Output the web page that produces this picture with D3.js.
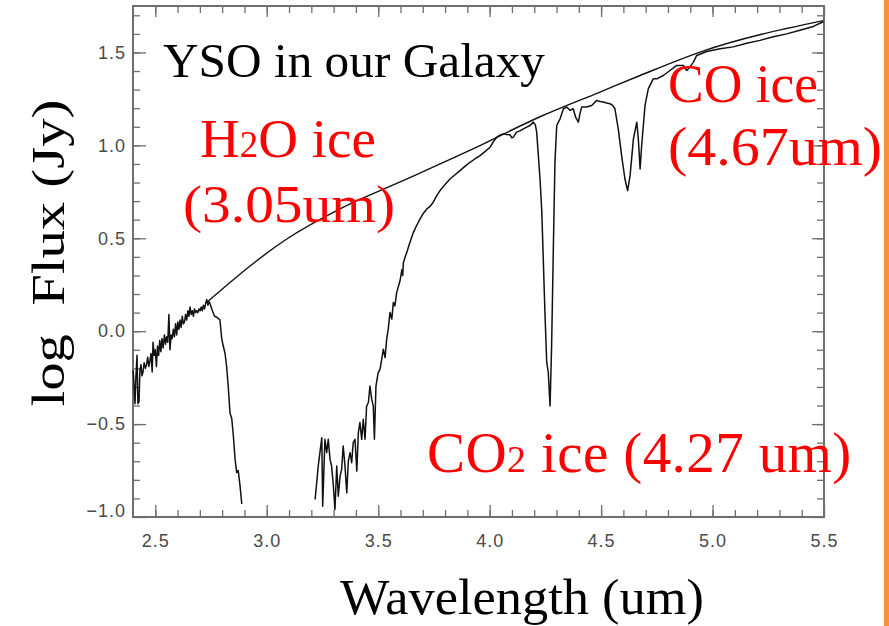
<!DOCTYPE html>
<html>
<head>
<meta charset="utf-8">
<script src="https://cdn.jsdelivr.net/npm/d3@7"></script>
<style>
  body { margin: 0; background: #fff; }
  svg { display: block; }
</style>
</head>
<body>
<svg width="889" height="626"></svg>
<script>
// [wavelength (um), log flux (Jy)]
const spectrumShort = [
  [2.401, -0.21], [2.405, -0.30], [2.409, -0.39], [2.413, -0.25], [2.418, -0.13],
  [2.422, -0.39], [2.427, -0.38], [2.431, -0.21], [2.436, -0.18], [2.440, -0.24],
  [2.445, -0.22], [2.450, -0.17], [2.456, -0.20], [2.461, -0.18], [2.466, -0.14],
  [2.471, -0.19], [2.476, -0.16], [2.481, -0.12], [2.486, -0.22], [2.490, -0.06],
  [2.495, -0.13], [2.500, -0.10], [2.505, -0.19], [2.510, -0.08], [2.515, -0.13],
  [2.520, -0.05], [2.525, -0.11], [2.530, -0.04], [2.535, -0.09], [2.541, -0.02],
  [2.546, -0.07], [2.551, -0.03], [2.556, -0.06], [2.561, 0.09], [2.566, -0.10],
  [2.571, -0.02], [2.576, -0.04], [2.581, 0.01], [2.586, -0.03], [2.591, 0.04],
  [2.596, -0.02], [2.601, 0.05], [2.606, 0.01], [2.611, 0.06], [2.616, 0.02],
  [2.621, 0.08], [2.626, 0.04], [2.631, 0.05], [2.636, 0.09], [2.641, 0.06],
  [2.646, 0.11], [2.651, 0.08], [2.656, 0.13], [2.661, 0.09], [2.666, 0.11],
  [2.671, 0.08], [2.676, 0.12], [2.681, 0.10], [2.686, 0.11], [2.691, 0.10],
  [2.696, 0.12], [2.701, 0.11], [2.706, 0.13], [2.711, 0.11], [2.716, 0.14],
  [2.721, 0.12], [2.726, 0.15], [2.731, 0.17], [2.736, 0.14], [2.741, 0.16],
  [2.746, 0.146], [2.756, 0.11], [2.766, 0.08], [2.776, 0.075], [2.786, 0.065],
  [2.790, 0.06], [2.798, -0.04], [2.805, -0.08], [2.813, -0.12], [2.820, -0.19],
  [2.828, -0.31], [2.835, -0.44], [2.843, -0.47], [2.850, -0.56], [2.858, -0.69],
  [2.865, -0.76], [2.872, -0.75], [2.880, -0.83], [2.888, -0.93]
];

const spectrumLong = [
  [3.217, -0.906], [3.231, -0.726], [3.247, -0.573], [3.251, -0.942], [3.261, -0.582],
  [3.269, -0.654], [3.276, -0.582], [3.284, -0.690], [3.291, -0.726], [3.299, -0.834],
  [3.306, -0.960], [3.314, -0.726], [3.321, -0.888], [3.329, -0.780], [3.336, -0.744],
  [3.343, -0.618], [3.351, -0.726], [3.359, -0.870], [3.366, -0.699], [3.374, -0.654],
  [3.381, -0.708], [3.388, -0.600], [3.396, -0.582], [3.404, -0.753], [3.411, -0.546],
  [3.418, -0.492], [3.426, -0.582], [3.433, -0.474], [3.441, -0.582], [3.448, -0.403],
  [3.456, -0.384], [3.463, -0.295], [3.471, -0.367], [3.478, -0.403], [3.483, -0.582],
  [3.490, -0.295], [3.500, -0.223], [3.508, -0.205], [3.516, -0.151], [3.523, -0.097],
  [3.531, -0.142], [3.538, -0.043], [3.545, 0.011], [3.553, 0.101], [3.561, 0.065],
  [3.568, 0.155], [3.575, 0.136], [3.583, 0.209], [3.598, 0.271], [3.606, 0.33],
  [3.610, 0.30], [3.613, 0.370], [3.628, 0.424], [3.643, 0.48], [3.658, 0.532],
  [3.673, 0.57], [3.688, 0.604], [3.703, 0.635], [3.718, 0.658], [3.733, 0.672],
  [3.747, 0.694], [3.762, 0.728], [3.777, 0.756], [3.800, 0.790], [3.822, 0.819],
  [3.845, 0.842], [3.867, 0.864], [3.890, 0.888], [3.912, 0.909], [3.935, 0.928],
  [3.957, 0.945], [3.980, 0.968], [4.002, 0.990], [4.017, 1.02], [4.032, 1.044],
  [4.046, 1.055], [4.061, 1.062], [4.076, 1.058], [4.091, 1.057], [4.100, 1.040],
  [4.106, 1.044], [4.121, 1.071], [4.136, 1.078], [4.151, 1.089], [4.166, 1.098],
  [4.181, 1.107], [4.196, 1.125], [4.205, 1.110], [4.211, 1.071], [4.226, 0.819],
  [4.234, 0.642], [4.241, 0.372], [4.248, 0.102], [4.256, -0.167], [4.263, -0.221],
  [4.271, -0.403], [4.278, -0.079], [4.286, 0.460], [4.293, 0.909], [4.301, 1.107],
  [4.316, 1.143], [4.331, 1.197], [4.346, 1.206], [4.361, 1.188], [4.375, 1.197],
  [4.386, 1.150], [4.398, 1.125], [4.405, 1.170], [4.413, 1.206], [4.435, 1.206],
  [4.458, 1.215], [4.480, 1.242], [4.495, 1.236], [4.510, 1.233], [4.525, 1.228],
  [4.540, 1.224], [4.552, 1.215], [4.562, 1.197], [4.577, 1.089], [4.592, 0.945],
  [4.607, 0.819], [4.619, 0.756], [4.630, 0.837], [4.645, 1.035], [4.660, 1.125],
  [4.667, 1.035], [4.675, 0.873], [4.682, 0.999], [4.697, 1.215], [4.712, 1.305],
  [4.734, 1.358], [4.750, 1.358], [4.779, 1.376], [4.809, 1.403], [4.839, 1.430],
  [4.869, 1.430], [4.884, 1.403], [4.899, 1.422], [4.914, 1.448], [4.929, 1.484],
  [4.974, 1.505], [5.034, 1.520], [5.093, 1.530], [5.153, 1.550], [5.213, 1.565],
  [5.273, 1.585], [5.333, 1.600], [5.392, 1.620], [5.452, 1.640], [5.497, 1.665]
];

const continuum = [
  [2.732, 0.156], [3.090, 0.496], [3.329, 0.658], [3.598, 0.803], [3.925, 0.981],
  [4.226, 1.154], [4.495, 1.287], [4.675, 1.376], [4.944, 1.502], [5.497, 1.671]
];

const xTicks = [2.5, 3.0, 3.5, 4.0, 4.5, 5.0, 5.5];
const yTicks = [-1.0, -0.5, 0.0, 0.5, 1.0, 1.5];

const svg = d3.select("svg");
const margin = { top: 6, right: 65, bottom: 109, left: 133 };
const width = 889 - margin.left - margin.right;
const height = 626 - margin.top - margin.bottom;

const x = d3.scaleLinear().domain([2.4, 5.5]).range([0, width]);
const y = d3.scaleLinear().domain([-1.0, 1.75]).range([height, 0]);

// orange strip on the slide edge
svg.append("rect")
  .attr("x", 884)
  .attr("y", 0)
  .attr("width", 5)
  .attr("height", 626)
  .attr("fill", "#f7923a");

const g = svg.append("g").attr("transform", `translate(${margin.left},${margin.top})`);

const axisColor = "#6e6e6e";
const fmt = d3.format(".1f");
const xMinor = d3.range(25, 55).map((d) => d / 10);
const yMinor = d3.range(-9, 18).map((d) => d / 10);

function styleAxis(sel) {
  sel.select(".domain").remove();
  sel.selectAll("line").attr("stroke", axisColor).attr("stroke-width", 1.3);
  sel.selectAll("text")
    .attr("fill", "#4a4a4a")
    .attr("font-family", "Liberation Sans, Arial, sans-serif")
    .attr("font-size", 18)
    .attr("letter-spacing", 1);
}

// minor ticks on all four sides
g.append("g").attr("transform", `translate(0,${height})`)
  .call(d3.axisTop(x).tickValues(xMinor).tickSize(7).tickFormat(""))
  .call(styleAxis);
g.append("g")
  .call(d3.axisBottom(x).tickValues(xMinor).tickSize(7).tickFormat(""))
  .call(styleAxis);
g.append("g")
  .call(d3.axisRight(y).tickValues(yMinor).tickSize(7).tickFormat(""))
  .call(styleAxis);
g.append("g").attr("transform", `translate(${width},0)`)
  .call(d3.axisLeft(y).tickValues(yMinor).tickSize(7).tickFormat(""))
  .call(styleAxis);

// major ticks and labels
g.append("g").attr("transform", `translate(0,${height})`)
  .call(d3.axisBottom(x).tickValues(xTicks).tickSize(0).tickPadding(17).tickFormat(fmt))
  .call(styleAxis);
g.append("g").attr("transform", `translate(0,${height})`)
  .call(d3.axisTop(x).tickValues(xTicks).tickSize(12).tickFormat(""))
  .call(styleAxis);
g.append("g")
  .call(d3.axisBottom(x).tickValues(xTicks).tickSize(11).tickFormat(""))
  .call(styleAxis);
g.append("g")
  .call(d3.axisLeft(y).tickValues(yTicks).tickSize(0).tickPadding(7).tickFormat(fmt))
  .call(styleAxis)
  .selectAll(".tick")
  .filter((d) => d === -1.0)
  .select("text")
  .attr("dy", "-0.05em");
g.append("g")
  .call(d3.axisRight(y).tickValues(yTicks).tickSize(13).tickFormat(""))
  .call(styleAxis);
g.append("g").attr("transform", `translate(${width},0)`)
  .call(d3.axisLeft(y).tickValues(yTicks).tickSize(12).tickFormat(""))
  .call(styleAxis);

// frame
g.append("rect")
  .attr("width", width)
  .attr("height", height)
  .attr("fill", "none")
  .attr("stroke", axisColor)
  .attr("stroke-width", 2);

const line = d3.line()
  .x((d) => x(d[0]))
  .y((d) => y(d[1]));

g.append("path")
  .datum(continuum)
  .attr("d", line.curve(d3.curveMonotoneX))
  .attr("fill", "none")
  .attr("stroke", "#111")
  .attr("stroke-width", 1.4);

line.curve(d3.curveLinear);
[spectrumShort, spectrumLong].forEach((s) => {
  g.append("path")
    .datum(s)
    .attr("d", line)
    .attr("fill", "none")
    .attr("stroke", "#111")
    .attr("stroke-width", 1.5)
    .attr("stroke-linejoin", "round");
});

// text annotations
const serif = "Liberation Serif, Times New Roman, serif";

svg.append("text")
  .attr("x", 163)
  .attr("y", 77)
  .attr("font-family", serif)
  .attr("font-size", 49)
  .attr("textLength", 382)
  .attr("lengthAdjust", "spacingAndGlyphs")
  .attr("fill", "#000")
  .text("YSO in our Galaxy");

const h2o = svg.append("text")
  .attr("x", 288)
  .attr("y", 157)
  .attr("text-anchor", "middle")
  .attr("font-family", serif)
  .attr("font-size", 55)
  .attr("fill", "red");
h2o.append("tspan").text("H");
h2o.append("tspan").attr("font-size", 37).text("2");
h2o.append("tspan").text("O ice");

svg.append("text")
  .attr("x", 183)
  .attr("y", 222)
  .attr("font-family", serif)
  .attr("font-size", 53)
  .attr("textLength", 212)
  .attr("lengthAdjust", "spacingAndGlyphs")
  .attr("fill", "red")
  .text("(3.05um)");

svg.append("text")
  .attr("x", 668)
  .attr("y", 102)
  .attr("font-family", serif)
  .attr("font-size", 54)
  .attr("textLength", 150)
  .attr("lengthAdjust", "spacingAndGlyphs")
  .attr("fill", "red")
  .text("CO ice");

svg.append("text")
  .attr("x", 668)
  .attr("y", 165)
  .attr("font-family", serif)
  .attr("font-size", 54)
  .attr("textLength", 214)
  .attr("lengthAdjust", "spacingAndGlyphs")
  .attr("fill", "red")
  .text("(4.67um)");

const co2 = svg.append("text")
  .attr("x", 427)
  .attr("y", 472)
  .attr("font-family", serif)
  .attr("font-size", 57)
  .attr("letter-spacing", 0.4)
  .attr("fill", "red");
co2.append("tspan").text("CO");
co2.append("tspan").attr("font-size", 38).text("2");
co2.append("tspan").text(" ice (4.27 um)");

svg.append("text")
  .attr("x", 522)
  .attr("y", 614)
  .attr("text-anchor", "middle")
  .attr("font-family", serif)
  .attr("font-size", 50)
  .attr("textLength", 364)
  .attr("lengthAdjust", "spacingAndGlyphs")
  .attr("fill", "#000")
  .text("Wavelength (um)");

svg.append("text")
  .attr("transform", "translate(64,253) rotate(-90)")
  .attr("text-anchor", "middle")
  .attr("font-family", serif)
  .attr("font-size", 46)
  .attr("textLength", 307)
  .attr("lengthAdjust", "spacingAndGlyphs")
  .attr("fill", "#000")
  .text("log\u00a0 Flux (Jy)");
</script>
</body>
</html>
